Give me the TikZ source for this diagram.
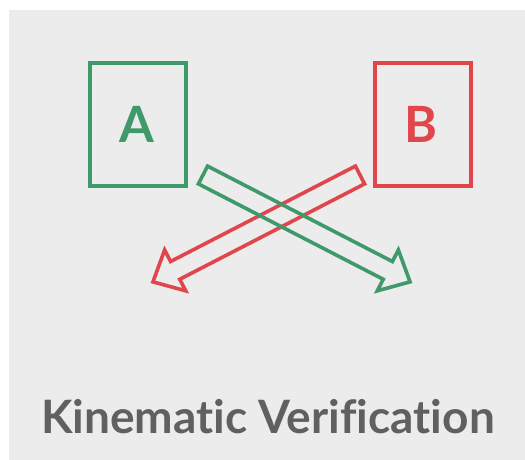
\documentclass[tikz,border=0pt]{standalone}
\usepackage{fontspec}
\setmainfont[Ligatures=NoCommon]{Lato}
\definecolor{kgreen}{HTML}{40996A}
\definecolor{kred}{HTML}{E0464B}
\definecolor{kbg}{HTML}{EBECEB}
\definecolor{ktext}{HTML}{5F6160}
\tikzset{
  boxframe/.style={draw, line width=3.6pt, minimum width=96pt, minimum height=123pt, inner sep=0pt},
  letter/.style={font=\fontsize{50}{50}\selectfont\bfseries},
  hollowarrow/.style={line width=3.6pt, line join=miter},
}
\begin{document}
\begin{tikzpicture}[x=1pt,y=-1pt]
\useasboundingbox (0,0) rectangle (525,460);
\fill[white] (0,0) rectangle (525,460);
\fill[kbg] (9,10) rectangle (525,460);
\node[boxframe, kgreen] (boxA) at (138,124.5) {};
\node[boxframe, kred] (boxB) at (423,124.5) {};
\node[letter, text=kgreen] (labA) at (137,124.5) {A};
\node[letter, text=kred] (labB) at (421,124.5) {B};
\begin{scope}[shift={(360,175)}, rotate=207.3]
  \draw[hollowarrow, kred] (0,-10) -- (208,-10) -- (208,-23) -- (233,0) -- (208,23) -- (208,10) -- (0,10) -- cycle;
\end{scope}
\begin{scope}[shift={(203,175)}, rotate=-27.3]
  \draw[hollowarrow, kgreen] (0,-10) -- (208,-10) -- (208,-23) -- (233,0) -- (208,23) -- (208,10) -- (0,10) -- cycle;
\end{scope}
\node[font=\fontsize{46}{46}\selectfont\bfseries, text=ktext, anchor=base] (title) at (268,433) {Kinematic Verification};
\end{tikzpicture}
\end{document}
